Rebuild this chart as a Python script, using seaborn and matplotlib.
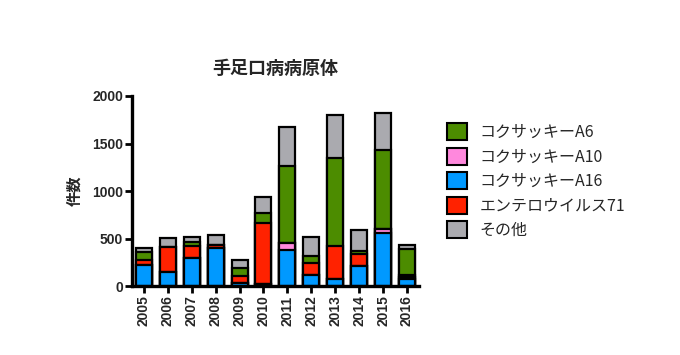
import matplotlib
matplotlib.use("Agg")
import matplotlib.pyplot as plt
import seaborn as sns
import numpy as np
from matplotlib.patches import Patch

years = ["2005", "2006", "2007", "2008", "2009", "2010",
         "2011", "2012", "2013", "2014", "2015", "2016"]
# counts per year, stacked bottom -> top: A16, A10, EV71, A6, other
cox_a16 = [227, 157, 300, 405, 40, 30, 380, 120, 75, 210, 565, 80]
cox_a10 = [0, 0, 0, 0, 0, 0, 75, 0, 0, 5, 40, 20]
ev71 = [52, 262, 120, 30, 70, 640, 0, 130, 350, 130, 0, 20]
cox_a6 = [81, 0, 50, 5, 80, 100, 810, 65, 925, 25, 825, 270]
other = [48, 94, 47, 100, 89, 172, 410, 200, 445, 225, 395, 40]

names = ["コクサッキーA16", "コクサッキーA10", "エンテロウイルス71", "コクサッキーA6", "その他"]
colors = ["#0099FF", "#FF88DD", "#FF2200", "#4C8C00", "#AAAAAF"]
legend_order = [3, 1, 0, 2, 4]

sns.set_style("white")
plt.rcParams["font.family"] = ["Noto Sans CJK JP", "DejaVu Sans"]

fig = plt.figure(figsize=(6.8, 3.55), dpi=100)
ax = fig.add_axes([0.194, 0.193, 0.422, 0.537])

layers = [cox_a16, cox_a10, ev71, cox_a6, other]
cum = np.cumsum(np.array(layers), axis=0)
# draw the tallest (cumulative) bars first so lower layers overlay them
for i in range(len(layers) - 1, -1, -1):
    sns.barplot(x=years, y=cum[i], color=colors[i], width=0.67,
                edgecolor="black", linewidth=1.6, saturation=1, ax=ax)

ax.set_xlim(-0.5, 11.5)
ax.set_ylim(0, 2000)
ax.set_yticks([0, 500, 1000, 1500, 2000])
sns.despine(ax=ax)
for s in ["left", "bottom"]:
    ax.spines[s].set_linewidth(2.4)
    ax.spines[s].set_color("black")
ax.tick_params(axis="both", direction="out", length=5, width=2, color="black",
               left=True, bottom=True, pad=1.5)
for lab in ax.get_yticklabels():
    lab.set_fontfamily("Liberation Sans")
    lab.set_fontweight("bold")
    lab.set_fontsize(10)
for lab in ax.get_xticklabels():
    lab.set_fontfamily("Liberation Sans")
    lab.set_fontweight("bold")
    lab.set_fontsize(10)
    lab.set_rotation(90)

ax.set_xlabel("")
ax.set_ylabel("件数", fontsize=11, fontweight="bold", labelpad=7)
ax.set_title("手足口病病原体", fontsize=13, fontweight="bold", pad=16)

handles = [Patch(facecolor=colors[i], edgecolor="black", linewidth=1.5, label=names[i])
           for i in legend_order]
fig.legend(handles=handles, loc="upper left", bbox_to_anchor=(0.645, 0.675),
           frameon=False, fontsize=11.5, handlelength=1.3, handleheight=1.25,
           handletextpad=0.75, labelspacing=0.42, borderpad=0)

fig.savefig("out.png", dpi=100)
